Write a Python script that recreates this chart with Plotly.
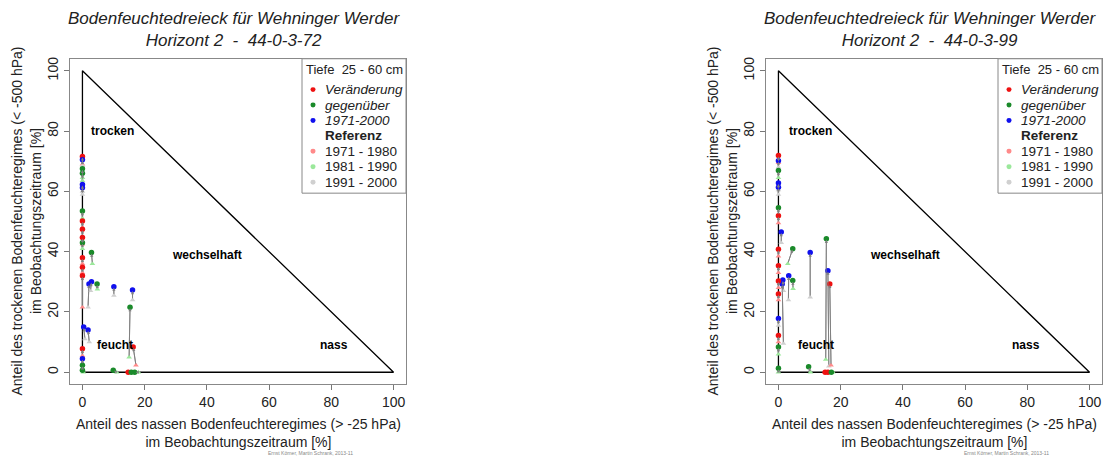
import plotly.graph_objects as go

W, H = 1104, 456

# ---- data: soil-moisture triangle, horizon 2 ----
# group: 0 = red, 1 = green, 2 = blue (change vs. 1971-2000)
# ref_* : reference position, chg_* : changed position (% wet, % dry)
left_group = [0, 2, 1, 1, 2, 2, 1, 0, 0, 0, 1, 0, 0, 0, 1, 2, 2, 1, 2, 2, 1, 2, 2, 0, 0, 2, 1, 1, 1, 0, 1, 1]
left_ref_x = [0, 0, 0, 0, 0, 0, 0, 0, 0, 0, 0, 0, 0, 0, 3.2, 1.8, 2.6, 4.8, 10.1, 16.1, 15.0, 0.8, 2.2, 17.2, 0, 0, 0, 0.3, 11.0, 15.5, 16.5, 18.0]
left_ref_y = [69.0, 68.5, 64.5, 63.5, 60.0, 59.0, 51.0, 48.0, 45.0, 42.5, 41.0, 36.0, 33.0, 21.6, 36.0, 21.6, 27.0, 27.5, 25.5, 24.0, 5.0, 11.0, 10.0, 2.3, 5.5, 2.5, 1.0, 0.0, 0.0, 0.0, 0.0, 0.0]
left_chg_x = [0, 0, 0, 0, 0, 0, 0, 0, 0, 0, 0, 0, 0, 0, 2.9, 2.1, 2.9, 4.7, 10.1, 16.1, 15.3, 0.4, 1.8, 16.3, 0, 0, 0, 0, 9.9, 14.7, 15.7, 16.8]
left_chg_y = [71.6, 70.5, 67.5, 66.0, 62.3, 61.2, 53.5, 50.2, 47.4, 44.7, 43.0, 38.0, 34.8, 32.0, 39.7, 29.3, 30.0, 29.3, 28.4, 27.3, 21.6, 15.0, 14.0, 8.4, 7.8, 4.5, 2.3, 0.7, 0.7, 0.0, 0.0, 0.0]

right_group = [0, 2, 1, 2, 2, 1, 0, 2, 0, 0, 1, 2, 1, 2, 0, 2, 2, 2, 1, 0, 0, 2, 0, 1, 1, 1, 0, 0, 1]
right_ref_x = [0, 0, 0, 0, 0, 0, 0, 0.9, 0, 0, 3.0, 10.2, 15.2, 16.2, 16.9, 1.6, 1.6, 3.2, 4.7, 0, 0, 0, 0, 0, 0, 10.3, 15.5, 16.0, 17.5]
right_ref_y = [69.5, 68.0, 64.5, 60.5, 59.0, 52.0, 49.5, 43.0, 38.5, 33.0, 36.0, 24.9, 4.2, 2.0, 2.3, 27.0, 9.5, 24.0, 27.7, 28.0, 24.0, 15.5, 10.0, 6.0, 0.0, 0.0, 0.0, 0.0, 0.0]
right_chg_x = [0, 0, 0, 0, 0, 0, 0, 0.9, 0, 0, 4.6, 10.2, 15.4, 15.9, 16.5, 1.4, 1.2, 3.3, 4.6, 0, 0, 0, 0, 0, 0, 9.7, 15.0, 15.9, 17.0]
right_chg_y = [71.9, 70.2, 66.9, 62.8, 61.4, 54.6, 51.9, 46.5, 40.8, 35.3, 41.0, 39.7, 44.3, 33.7, 29.3, 30.6, 29.3, 32.0, 30.4, 30.3, 26.0, 17.8, 12.2, 8.4, 1.3, 1.8, 0.0, 0.0, 0.0]

ticks = [0, 20, 40, 60, 80, 100]
panel_titles = ["Bodenfeuchtedreieck für Wehninger Werder<br>Horizont 2  -  44-0-3-72",
                "Bodenfeuchtedreieck für Wehninger Werder<br>Horizont 2  -  44-0-3-99"]
x_title = "Anteil des nassen Bodenfeuchteregimes (> -25 hPa)<br>im Beobachtungszeitraum [%]"
y_title = "Anteil des trockenen Bodenfeuchteregimes (< -500 hPa)<br>im Beobachtungszeitraum [%]"
region_labels = ["trocken", "wechselhaft", "feucht", "nass"]
region_x = [[9.8, 40.0, 10.6, 80.8], [10.2, 40.6, 12.0, 79.5]]
region_y = [80, 39, 9, 9]
legend_head = "Tiefe  25 - 60 cm"
legend_change = ["Veränderung", "gegenüber", "1971-2000"]
legend_ref_head = "Referenz"
legend_ref = ["1971 - 1980", "1981 - 1990", "1991 - 2000"]
footer = "Ernst Körner, Martin Schrank, 2013-11"

dark_cols = ["#ee1111", "#1a8a2a", "#1010ee"]
light_cols = ["#ff8a8a", "#9be89b", "#d0d0d0"]
FONT = "Liberation Sans, Arial, sans-serif"

panels = [
    dict(g=left_group, rx=left_ref_x, ry=left_ref_y, cx=left_chg_x, cy=left_chg_y, left=70, right=406),
    dict(g=right_group, rx=right_ref_x, ry=right_ref_y, cx=right_chg_x, cy=right_chg_y, left=766, right=1102),
]
top_px, bot_px = 57, 384

fig = go.Figure()
annotations = []
shapes = []


def px(x):
    return x / W


def py(y):
    return 1 - y / H


def label(x, y, text, size=12, color="#222", xanchor="center", **kw):
    annotations.append(dict(x=px(x), y=py(y), xref="paper", yref="paper", text=text, showarrow=False,
                            xanchor=xanchor, yanchor="middle", align="center",
                            font=dict(family=FONT, size=size, color=color), **kw))


for i, p in enumerate(panels):
    xa = "x" if i == 0 else "x2"
    ya = "y" if i == 0 else "y2"
    axn = "" if i == 0 else "2"

    # triangle outline
    fig.add_trace(go.Scatter(x=[0, 0, 100, 0], y=[0, 100, 0, 0], mode="lines",
                             line=dict(color="black", width=1.3), xaxis=xa, yaxis=ya,
                             showlegend=False, hoverinfo="skip"))

    # connecting segments ref -> changed
    seg_x, seg_y = [], []
    for rx, ry, cx, cy in zip(p["rx"], p["ry"], p["cx"], p["cy"]):
        seg_x += [rx, cx, None]
        seg_y += [ry, cy, None]
    fig.add_trace(go.Scatter(x=seg_x, y=seg_y, mode="lines", line=dict(color="#808080", width=1),
                             xaxis=xa, yaxis=ya, showlegend=False, hoverinfo="skip"))

    # reference markers
    fig.add_trace(go.Scatter(x=p["rx"], y=p["ry"], mode="markers",
                             marker=dict(symbol="triangle-up", size=5, color=[light_cols[g] for g in p["g"]]),
                             xaxis=xa, yaxis=ya, showlegend=False))
    # changed markers
    fig.add_trace(go.Scatter(x=p["cx"], y=p["cy"], mode="markers",
                             marker=dict(symbol="circle", size=5.5, color=[dark_cols[g] for g in p["g"]]),
                             xaxis=xa, yaxis=ya, showlegend=False))

    # arrow heads
    for rx, ry, cx, cy in zip(p["rx"], p["ry"], p["cx"], p["cy"]):
        if abs(rx - cx) + abs(ry - cy) < 0.5:
            continue
        annotations.append(dict(x=cx, y=cy, ax=rx, ay=ry, xref=xa, yref=ya, axref=xa, ayref=ya,
                                text="", showarrow=True, arrowhead=2, arrowsize=0.8,
                                arrowwidth=0.8, arrowcolor="#808080", standoff=1))

    # region labels
    for lab, lx, ly in zip(region_labels, region_x[i], region_y):
        annotations.append(dict(x=lx, y=ly, xref=xa, yref=ya, text="<b>%s</b>" % lab, showarrow=False,
                                xanchor="center", yanchor="middle",
                                font=dict(family=FONT, size=12, color="black")))

    # axes
    dom_x = [px(p["left"]), px(p["right"])]
    dom_y = [py(bot_px), py(top_px)]
    common = dict(range=[-4, 104], tickvals=ticks, ticks="outside", ticklen=5, tickcolor="#777",
                  showline=True, linecolor="#888", linewidth=1, mirror=True, showgrid=False,
                  zeroline=False, tickfont=dict(family=FONT, size=14, color="#222"))
    fig.update_layout(**{"xaxis" + axn: dict(domain=dom_x, anchor=ya, **common),
                         "yaxis" + axn: dict(domain=dom_y, anchor=xa, tickangle=-90, **common)})

    cx_px = (p["left"] + p["right"]) / 2
    # panel title
    label(cx_px - 4, 28, "<i>%s</i>" % panel_titles[i], size=17)
    # axis titles
    label(cx_px, 433, x_title, size=14)
    label(p["left"] - 43.5, 220, y_title, size=14, textangle=-90)
    # footer
    label(p["left"] + 240, 452.5, footer, size=5, color="#888")

    # legend box
    lx0, lx1, ly0, ly1 = p["right"] - 104, p["right"], top_px, 192
    shapes.append(dict(type="rect", xref="paper", yref="paper", x0=px(lx0), x1=px(lx1), y0=py(ly1), y1=py(ly0),
                       line=dict(color="#888", width=1), fillcolor="white", layer="above"))
    tx = lx0 + 21
    mx = lx0 + 11
    label(lx0 + 2, 68, legend_head, size=13, xanchor="left")
    rows = [88, 103.5, 119]
    for k, (lab, yy) in enumerate(zip(legend_change, rows)):
        label(tx, yy, "<i>%s</i>" % lab, size=13.5, xanchor="left")
        shapes.append(dict(type="circle", xref="paper", yref="paper", x0=px(mx - 2.5), x1=px(mx + 2.5),
                           y0=py(yy + 2.5), y1=py(yy - 2.5), fillcolor=dark_cols[k], line=dict(width=0)))
    label(tx, 134.5, "<b>%s</b>" % legend_ref_head, size=13.5, xanchor="left")
    rows = [150, 165.5, 181]
    for k, (lab, yy) in enumerate(zip(legend_ref, rows)):
        label(tx, yy, lab, size=13.5, xanchor="left")
        shapes.append(dict(type="circle", xref="paper", yref="paper", x0=px(mx - 2.5), x1=px(mx + 2.5),
                           y0=py(yy + 2.5), y1=py(yy - 2.5), fillcolor=light_cols[k], line=dict(width=0)))

fig.update_layout(width=W, height=H, margin=dict(l=0, r=0, t=0, b=0), plot_bgcolor="white",
                  paper_bgcolor="white", showlegend=False, annotations=annotations, shapes=shapes)

fig.write_html("out.html")
